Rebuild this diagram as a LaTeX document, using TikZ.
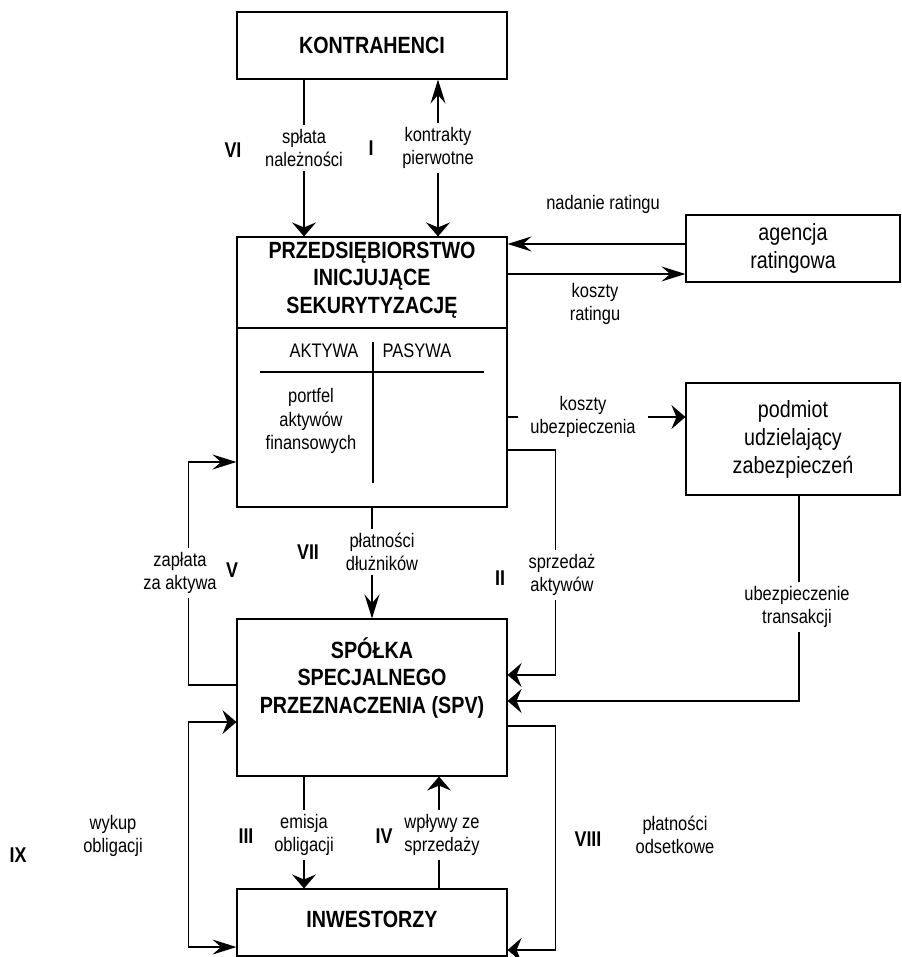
\documentclass[tikz,border=0pt]{standalone}
\usepackage{fontspec}
\setmainfont{Liberation Sans}[FakeStretch=0.84]
\usetikzlibrary{arrows.meta}
\begin{document}
\begin{tikzpicture}[x=0.75pt,y=-0.75pt,
  line width=0.85pt,
  wideTip/.tip={Stealth[length=10.5pt,width=18pt,inset=3.75pt]},
  longTip/.tip={Stealth[length=18pt,width=11.25pt,inset=6.5pt]},
  box/.style={draw, inner sep=0pt, align=center},
  head/.style={font=\fontsize{17.6pt}{20.6pt}\selectfont\bfseries, align=center, inner sep=0pt},
  big/.style={font=\fontsize{17.6pt}{21pt}\selectfont},
  small/.style={font=\fontsize{14.7pt}{17.6pt}\selectfont, align=center, inner sep=1pt},
  lbl/.style={font=\fontsize{14.7pt}{17.2pt}\selectfont, align=center, fill=white, inner xsep=2pt, inner ysep=3pt},
  num/.style={font=\fontsize{16pt}{19pt}\selectfont\bfseries, inner sep=1pt}
]
\useasboundingbox (0,0) rectangle (902,957);

% boxes
\node[box, head, minimum width=202.5pt, minimum height=50.25pt] (kon) at (372,45.5) {KONTRAHENCI};
\node[box, minimum width=202.5pt, minimum height=202.5pt] (prz) at (372,372) {};
\node[head] (prztxt) at (372,280) {PRZEDSIĘBIORSTWO\\INICJUJĄCE\\SEKURYTYZACJĘ};
\node[box, minimum width=202.5pt, minimum height=117.75pt] (spv) at (372,697.5) {};
\node[head] (spvtxt) at (372,678) {SPÓŁKA\\SPECJALNEGO\\PRZEZNACZENIA (SPV)};
\node[box, minimum width=202.5pt, minimum height=50.25pt] (inw) at (372,922.5) {};
\node[head] (inwtxt) at (372,919) {INWESTORZY};
\node[box, big, minimum width=160.5pt, minimum height=50.25pt] (agn) at (793,248.5) {agencja\\ratingowa};
\node[box, big, minimum width=160.5pt, minimum height=84pt] (pod) at (793,439) {podmiot\\udzielający\\zabezpieczeń};

% inner structure of the originator box
\draw ([yshift=33pt]prz.west) -- ([yshift=33pt]prz.east);
\node[small] (akt) at (324,351) {AKTYWA};
\node[small] (pas) at (417,351) {PASYWA};
\coordinate (ta) at (260,372);
\coordinate (tb) at (484,372);
\coordinate (tc) at (373,342);
\coordinate (td) at (373,483);
\draw (ta) -- (tb);
\draw (tc) -- (td);
\node[small] (port) at (311,421) {portfel\\aktywów\\finansowych};

% connectors
\draw[-{wideTip}] ([xshift=-51pt]kon.south) -- ([xshift=-51pt]prz.north);
\draw[{longTip}-{wideTip}] ([xshift=49.5pt]kon.south) -- ([xshift=49.5pt]prz.north);
\coordinate (r1) at ([yshift=3.4pt]agn.west);
\draw[-{longTip}] (r1) -- (r1 -| prz.east);
\coordinate (r2) at ([yshift=-19.1pt]agn.west);
\draw[-{longTip}] (r2 -| prz.east) -- (r2);
\coordinate (u1) at ([yshift=16.5pt]pod.west);
\draw[-{wideTip}] (u1 -| prz.east) -- (u1);
\coordinate (s1) at ([yshift=-58.5pt]prz.east);
\coordinate (s2) at ([yshift=16.9pt]spv.east);
\draw[-{wideTip}] (s1) -- ++(48,0) |- (s2);
\coordinate (t1) at ([xshift=4.5pt]pod.south);
\coordinate (t2) at ([yshift=-2.6pt]spv.east);
\draw[-{wideTip}] (t1) |- (t2);
\draw[-{longTip}] (prz.south) -- (spv.north);
\coordinate (z1) at ([yshift=9.4pt]spv.west);
\coordinate (z2) at ([yshift=-67.5pt]prz.west);
\draw[-{longTip}] (z1) -- ++(-48,0) |- (z2);
\coordinate (w1) at ([yshift=-18.4pt]spv.west);
\coordinate (w2) at ([yshift=-18.4pt]inw.west);
\draw[{wideTip}-{longTip}] (w1) -- ++(-48,0) |- (w2);
\draw[-{wideTip}] ([xshift=-51pt]spv.south) -- ([xshift=-51pt]inw.north);
\draw[-{wideTip}] ([xshift=50.25pt]inw.north) -- ([xshift=50.25pt]spv.south);
\coordinate (p1) at ([yshift=-21.4pt]spv.east);
\coordinate (p2) at ([yshift=-20.6pt]inw.east);
\draw[-{wideTip}] (p1) -- ++(48,0) |- (p2);

% connector labels
\node[lbl] (l1) at (304,148) {spłata\\należności};
\node[lbl] (l2) at (438,148) {kontrakty\\pierwotne};
\node[lbl, fill=none] (l3) at (603,204) {nadanie ratingu};
\node[lbl, fill=none] (l4) at (595,304) {koszty\\ratingu};
\node[lbl, inner xsep=9pt] (l5) at (583,417) {koszty\\ubezpieczenia};
\node[lbl] (l6) at (562,575) {sprzedaż\\aktywów};
\node[lbl] (l7) at (797,607) {ubezpieczenie\\transakcji};
\node[lbl] (l8) at (382,552) {płatności\\dłużników};
\node[lbl] (l9) at (180,573) {zapłata\\za aktywa};
\node[lbl, fill=none] (l10) at (113,836) {wykup\\obligacji};
\node[lbl] (l11) at (304,835) {emisja\\obligacji};
\node[lbl] (l12) at (442,835) {wpływy ze\\sprzedaży};
\node[lbl, fill=none] (l13) at (675,835) {płatności\\odsetkowe};

% stage numbers
\node[num] (n6) at (233,150) {VI};
\node[num] (n1) at (371,148) {I};
\node[num] (n7) at (308,552) {VII};
\node[num] (n5) at (232,570) {V};
\node[num] (n2) at (500,578) {II};
\node[num] (n3) at (246,836) {III};
\node[num] (n4) at (384,836) {IV};
\node[num] (n8) at (588,839) {VIII};
\node[num] (n9) at (18,855) {IX};
\end{tikzpicture}
\end{document}
